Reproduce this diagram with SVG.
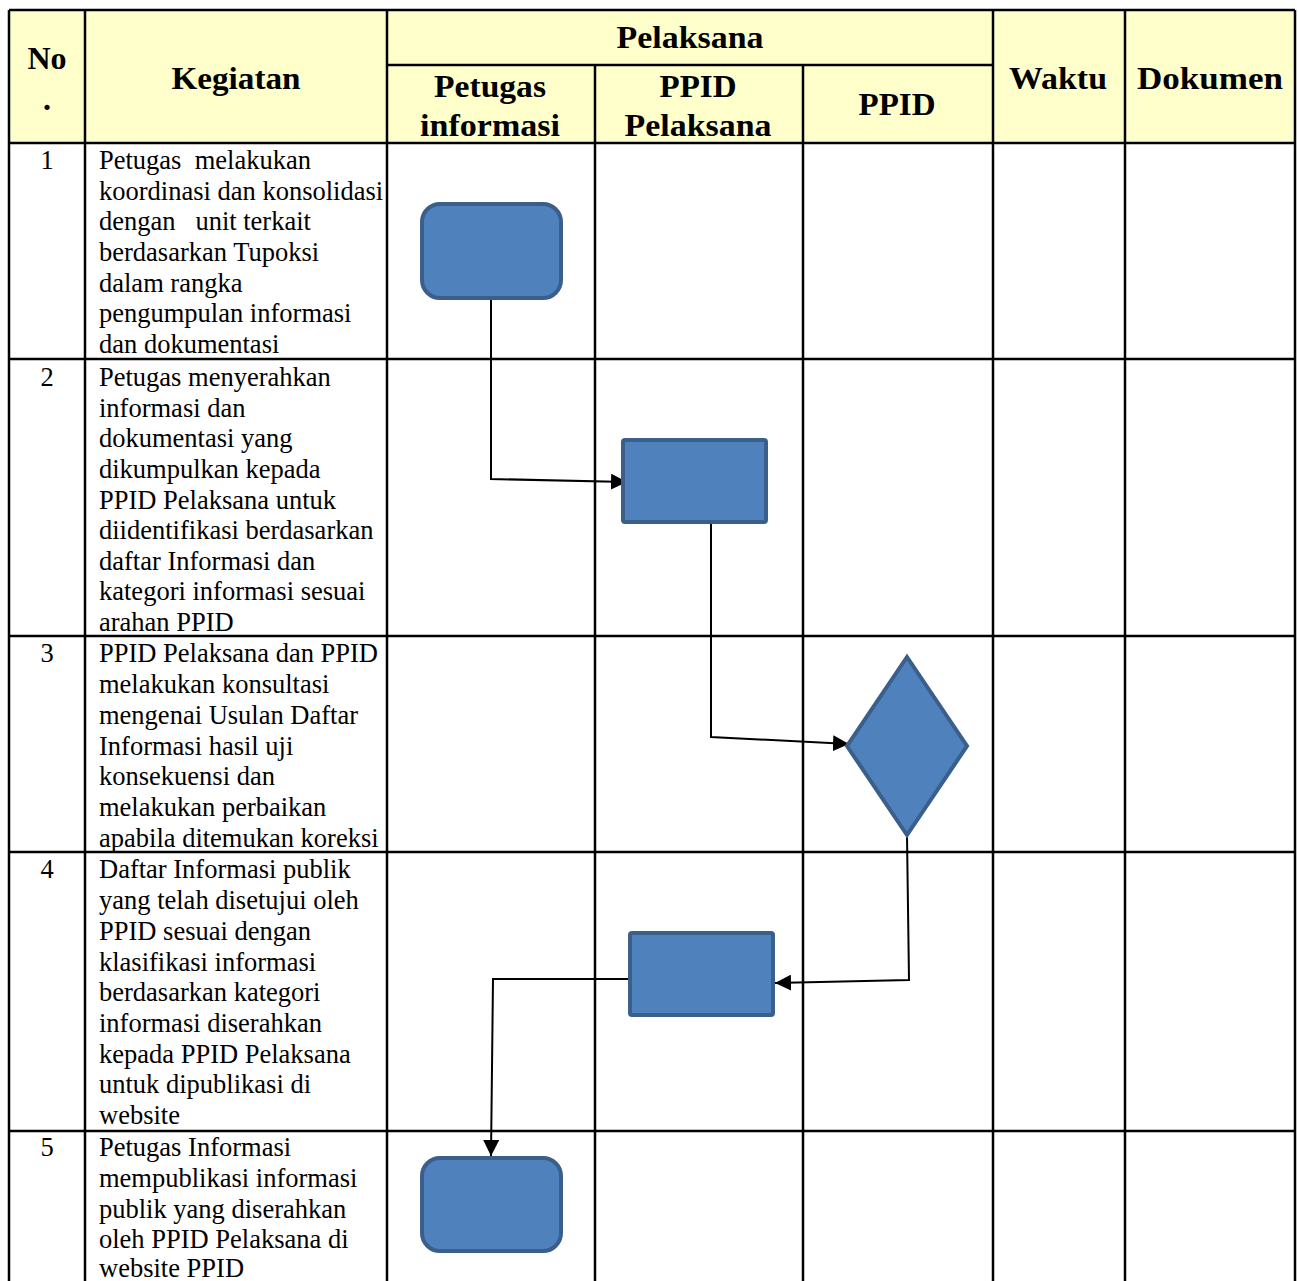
<svg xmlns="http://www.w3.org/2000/svg" width="1298" height="1281" viewBox="0 0 1298 1281">
<style>
.hd{font-family:"Liberation Serif","Times New Roman",serif;font-weight:bold;font-size:32px;fill:#000;text-anchor:middle}
.bd{font-family:"Liberation Serif","Times New Roman",serif;font-size:26.5px;fill:#000}
.no{font-family:"Liberation Serif","Times New Roman",serif;font-size:26.5px;fill:#000;text-anchor:middle}
.grid{stroke:#000;stroke-width:2.5;fill:none}
.shape{fill:#4F81BD;stroke:#3A5F8B;stroke-width:4}
.conn{stroke:#000;stroke-width:2;fill:none}
</style>
<defs>
<marker id="arr" markerUnits="userSpaceOnUse" markerWidth="18" markerHeight="16" refX="16" refY="8" orient="auto">
<path d="M0,0 L16,8 L0,16 z" fill="#000"/>
</marker>
</defs>
<rect x="0" y="0" width="1298" height="1281" fill="#fff"/>
<g id="table">
<rect x="9" y="10" width="1286" height="133" fill="#FFFFCC"/>
<g class="grid">
<line x1="9" y1="10" x2="1295" y2="10"/>
<line x1="387" y1="65" x2="993" y2="65"/>
<line x1="9" y1="143" x2="1295" y2="143"/>
<line x1="9" y1="359" x2="1295" y2="359"/>
<line x1="9" y1="636" x2="1295" y2="636"/>
<line x1="9" y1="852" x2="1295" y2="852"/>
<line x1="9" y1="1131" x2="1295" y2="1131"/>
<line x1="9" y1="10" x2="9" y2="1281"/>
<line x1="85" y1="10" x2="85" y2="1281"/>
<line x1="387" y1="10" x2="387" y2="1281"/>
<line x1="595" y1="65" x2="595" y2="1281"/>
<line x1="803" y1="65" x2="803" y2="1281"/>
<line x1="993" y1="10" x2="993" y2="1281"/>
<line x1="1125" y1="10" x2="1125" y2="1281"/>
<line x1="1295" y1="10" x2="1295" y2="1281"/>
</g>
<text class="hd" x="47" y="69">No</text>
<text class="hd" x="47" y="110">.</text>
<text class="hd" x="236" y="89" textLength="129" lengthAdjust="spacingAndGlyphs">Kegiatan</text>
<text class="hd" x="690" y="48" textLength="147" lengthAdjust="spacingAndGlyphs">Pelaksana</text>
<text class="hd" x="490" y="97" textLength="112" lengthAdjust="spacingAndGlyphs">Petugas</text>
<text class="hd" x="490" y="136" textLength="140" lengthAdjust="spacingAndGlyphs">informasi</text>
<text class="hd" x="698" y="97" textLength="77" lengthAdjust="spacingAndGlyphs">PPID</text>
<text class="hd" x="698" y="136" textLength="147" lengthAdjust="spacingAndGlyphs">Pelaksana</text>
<text class="hd" x="897" y="115" textLength="77" lengthAdjust="spacingAndGlyphs">PPID</text>
<text class="hd" x="1058" y="89" textLength="98" lengthAdjust="spacingAndGlyphs">Waktu</text>
<text class="hd" x="1210" y="89" textLength="146" lengthAdjust="spacingAndGlyphs">Dokumen</text>
</g>
<g id="row1">
<text class="no" x="47" y="169">1</text>
<text class="bd" x="99" y="169" xml:space="preserve">Petugas  melakukan</text>
<text class="bd" x="99" y="200">koordinasi dan konsolidasi</text>
<text class="bd" x="99" y="230" xml:space="preserve">dengan   unit terkait</text>
<text class="bd" x="99" y="261">berdasarkan Tupoksi</text>
<text class="bd" x="99" y="292">dalam rangka</text>
<text class="bd" x="99" y="322">pengumpulan informasi</text>
<text class="bd" x="99" y="353">dan dokumentasi</text>
</g>
<g id="row2">
<text class="no" x="47" y="386">2</text>
<text class="bd" x="99" y="386">Petugas menyerahkan</text>
<text class="bd" x="99" y="417">informasi dan</text>
<text class="bd" x="99" y="447">dokumentasi yang</text>
<text class="bd" x="99" y="478">dikumpulkan kepada</text>
<text class="bd" x="99" y="509">PPID Pelaksana untuk</text>
<text class="bd" x="99" y="539">diidentifikasi berdasarkan</text>
<text class="bd" x="99" y="570">daftar Informasi dan</text>
<text class="bd" x="99" y="600">kategori informasi sesuai</text>
<text class="bd" x="99" y="631">arahan PPID</text>
</g>
<g id="row3">
<text class="no" x="47" y="662">3</text>
<text class="bd" x="99" y="662">PPID Pelaksana dan PPID</text>
<text class="bd" x="99" y="693">melakukan konsultasi</text>
<text class="bd" x="99" y="724">mengenai Usulan Daftar</text>
<text class="bd" x="99" y="755">Informasi hasil uji</text>
<text class="bd" x="99" y="785">konsekuensi dan</text>
<text class="bd" x="99" y="816">melakukan perbaikan</text>
<text class="bd" x="99" y="847">apabila ditemukan koreksi</text>
</g>
<g id="row4">
<text class="no" x="47" y="878">4</text>
<text class="bd" x="99" y="878">Daftar Informasi publik</text>
<text class="bd" x="99" y="909">yang telah disetujui oleh</text>
<text class="bd" x="99" y="940">PPID sesuai dengan</text>
<text class="bd" x="99" y="971">klasifikasi informasi</text>
<text class="bd" x="99" y="1001">berdasarkan kategori</text>
<text class="bd" x="99" y="1032">informasi diserahkan</text>
<text class="bd" x="99" y="1063">kepada PPID Pelaksana</text>
<text class="bd" x="99" y="1093">untuk dipublikasi di</text>
<text class="bd" x="99" y="1124">website</text>
</g>
<g id="row5">
<text class="no" x="47" y="1156">5</text>
<text class="bd" x="99" y="1156">Petugas Informasi</text>
<text class="bd" x="99" y="1187">mempublikasi informasi</text>
<text class="bd" x="99" y="1218">publik yang diserahkan</text>
<text class="bd" x="99" y="1248">oleh PPID Pelaksana di</text>
<text class="bd" x="99" y="1277">website PPID</text>
</g>
<g id="connectors">
<path class="conn" d="M491,298 V479 L627,482" marker-end="url(#arr)"/>
<path class="conn" d="M711,523 V737 L849,744" marker-end="url(#arr)"/>
<path class="conn" d="M907,836 L909,980 L775,983" marker-end="url(#arr)"/>
<path class="conn" d="M632,979 H493 L491,1156" marker-end="url(#arr)"/>
</g>
<g id="node1"><rect class="shape" x="422" y="204" width="139" height="94" rx="18"/></g>
<g id="node2"><rect class="shape" x="623" y="440" width="143" height="82" rx="2"/></g>
<g id="node3"><polygon class="shape" points="907,657 967,746 907,835 847,746"/></g>
<g id="node4"><rect class="shape" x="630" y="933" width="143" height="82" rx="2"/></g>
<g id="node5"><rect class="shape" x="422" y="1158" width="139" height="93" rx="18"/></g>
</svg>
